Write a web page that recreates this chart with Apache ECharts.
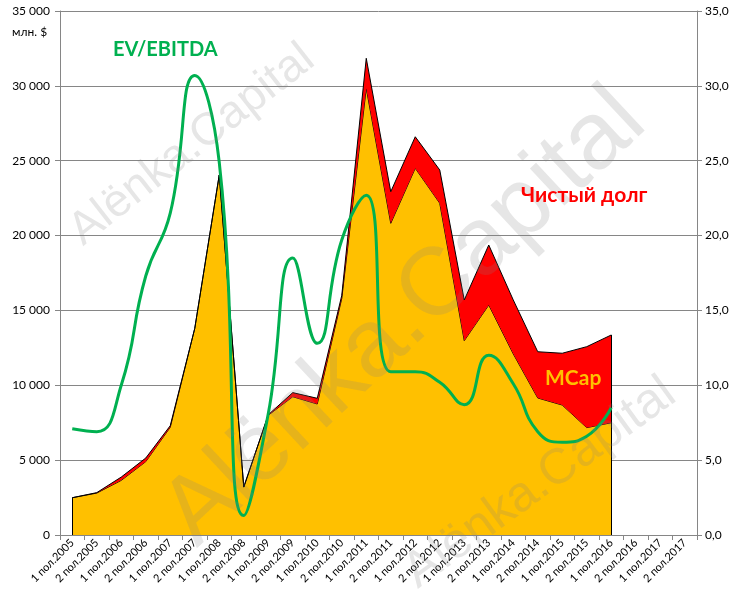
<!DOCTYPE html>
<html>
<head>
<meta charset="utf-8">
<script src="https://cdn.jsdelivr.net/npm/echarts@6/dist/echarts.min.js"></script>
<style>
html,body{margin:0;padding:0;background:#fff;}
#chart{width:739px;height:605px;}
</style>
</head>
<body>
<div id="chart"></div>
<script>
var categories = ["1 пол.2005","2 пол.2005","1 пол.2006","2 пол.2006","1 пол.2007","2 пол.2007","1 пол.2008","2 пол.2008","1 пол.2009","2 пол.2009","1 пол.2010","2 пол.2010","1 пол.2011","2 пол.2011","1 пол.2012","2 пол.2012","1 пол.2013","2 пол.2013","1 пол.2014","2 пол.2014","1 пол.2015","2 пол.2015","1 пол.2016","2 пол.2016","1 пол.2017","2 пол.2017"];
var mcap = [2490, 2800, 3650, 4900, 7200, 13800, 24050, 3200, 8000, 9240, 8750, 15800, 29840, 20820, 24500, 22160, 12980, 15360, 12100, 9150, 8680, 7170, 7500];
var netDebt = [0, 30, 220, 240, 100, 0, 0, 0, 30, 270, 380, 200, 2000, 2110, 2100, 2220, 2720, 4010, 3600, 3090, 3460, 5410, 5860];
var evEbitda = [7.1, 6.9, 10.0, 17.3, 21.5, 30.7, 24.9, 1.3, 8.1, 18.5, 12.8, 19.7, 22.7, 10.9, 10.9, 10.2, 8.7, 12.0, 10.1, 6.9, 6.2, 6.6, 8.5];
var leftTicks = {min: 0, max: 35000, interval: 5000};
var rightTicks = {min: 0, max: 35, interval: 5};

var FONT = 'Lato, "Open Sans", sans-serif';
var last = mcap.length - 1;
var chart = echarts.init(document.getElementById('chart'), null, {renderer: 'canvas'});
var wm = 'Alënka.Capital';
var wmColor = 'rgba(128,128,128,0.2)';
chart.setOption({
  animation: false,
  textStyle: {fontFamily: FONT},
  grid: {left: 60, right: 42, top: 11, bottom: 70, containLabel: false},
  xAxis: {
    type: 'category',
    data: categories,
    boundaryGap: true,
    axisLine: {lineStyle: {color: '#868686'}},
    axisTick: {show: true, length: 5, lineStyle: {color: '#868686'}, interval: 0},
    axisLabel: {rotate: 45, interval: 0, fontSize: 11, color: '#000', margin: 6, fontFamily: FONT}
  },
  yAxis: [{
    type: 'value', min: leftTicks.min, max: leftTicks.max, interval: leftTicks.interval,
    axisLine: {show: true, lineStyle: {color: '#868686'}},
    axisTick: {show: true, length: 5, lineStyle: {color: '#868686'}},
    splitLine: {show: true, lineStyle: {color: '#868686', width: 1}},
    axisLabel: {fontSize: 12, color: '#000', margin: 10, fontFamily: FONT,
      formatter: function (v) { return v >= 1000 ? Math.floor(v / 1000) + ' ' + String(v % 1000).padStart(3, '0') : String(v); }}
  }, {
    type: 'value', min: rightTicks.min, max: rightTicks.max, interval: rightTicks.interval,
    position: 'right',
    axisLine: {show: true, lineStyle: {color: '#868686'}},
    axisTick: {show: true, length: 5, lineStyle: {color: '#868686'}},
    splitLine: {show: false},
    axisLabel: {fontSize: 12, color: '#000', margin: 8, fontFamily: FONT,
      formatter: function (v) { return v.toFixed(1).replace('.', ','); }}
  }],
  series: [{
    name: 'MCap', type: 'line', stack: 'ev', data: mcap, yAxisIndex: 0,
    symbol: 'none', z: 2,
    lineStyle: {color: '#000', width: 1},
    areaStyle: {color: '#FFC000', opacity: 1},
    markLine: {
      silent: true, symbol: 'none', label: {show: false},
      lineStyle: {color: '#000', width: 1, type: 'solid'},
      data: [
        [{coord: [0, 0]}, {coord: [0, mcap[0] + netDebt[0]]}],
        [{coord: [last, 0]}, {coord: [last, mcap[last] + netDebt[last]]}]
      ]
    }
  }, {
    name: 'Чистый долг', type: 'line', stack: 'ev', data: netDebt, yAxisIndex: 0,
    symbol: 'none', z: 3,
    lineStyle: {color: '#000', width: 1},
    areaStyle: {color: '#FF0000', opacity: 1}
  }, {
    name: 'EV/EBITDA', type: 'line', data: evEbitda, yAxisIndex: 1,
    symbol: 'none', smooth: 0.5, z: 5,
    lineStyle: {color: '#00B050', width: 3}
  }],
  graphic: [
    {type: 'text', left: 12, top: 26, z: 100, style: {text: 'млн. $', fontSize: 12, fill: '#000', fontFamily: FONT}},
    {type: 'text', left: 113, top: 40, z: 100, style: {text: 'EV/EBITDA', fontSize: 20, fontWeight: 'bold', fill: '#00B050', fontFamily: FONT}},
    {type: 'text', left: 521, top: 185, z: 100, style: {text: 'Чистый долг', fontSize: 21, fontWeight: 'bold', fill: '#FF0000', fontFamily: FONT}},
    {type: 'text', left: 545, top: 368, z: 100, style: {text: 'MCap', fontSize: 21, fontWeight: 'bold', fill: '#FFC000', fontFamily: FONT}},
    {type: 'text', x: 192, y: 145, rotation: 38 * Math.PI / 180, z: 90,
      style: {text: wm, fontSize: 46, fill: wmColor, fontFamily: 'Liberation Sans, sans-serif', align: 'center', verticalAlign: 'middle'}},
    {type: 'text', x: 405, y: 318, rotation: 43 * Math.PI / 180, z: 90,
      style: {text: wm, fontSize: 96, fill: wmColor, fontFamily: 'Liberation Sans, sans-serif', align: 'center', verticalAlign: 'middle'}},
    {type: 'text', x: 540, y: 483, rotation: 36 * Math.PI / 180, z: 90,
      style: {text: wm, fontSize: 50, fill: wmColor, fontFamily: 'Liberation Sans, sans-serif', align: 'center', verticalAlign: 'middle'}}
  ]
});
</script>
</body>
</html>
